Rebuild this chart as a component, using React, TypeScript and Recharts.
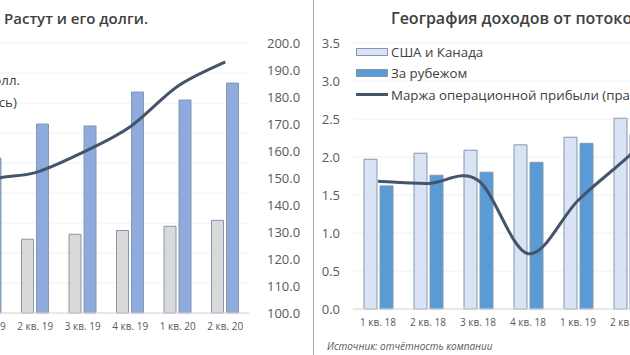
import { ComposedChart, Bar, Line, XAxis, YAxis, CartesianGrid, Legend } from 'recharts';

// ---- left panel: Netflix revenue, debt, subscribers ----
const quarters = ['1 кв. 18', '2 кв. 18', '3 кв. 18', '4 кв. 18', '1 кв. 19', '2 кв. 19', '3 кв. 19', '4 кв. 19', '1 кв. 20', '2 кв. 20'];
const revenue = [3.7, 3.91, 4.0, 4.19, 4.52, 4.92, 5.25, 5.5, 5.78, 6.18];
const debt = [6.5, 8.3, 8.3, 10.4, 10.33, 12.6, 12.47, 14.73, 14.2, 15.33];
const subscribers = [125, 130, 137, 139, 149, 152, 159.5, 169, 184, 193];
const leftTicks = [0, 2, 4, 6, 8, 10, 12, 14, 16, 18];
const rightTicks = [100, 110, 120, 130, 140, 150, 160, 170, 180, 190, 200];

// ---- right panel: revenue by region and operating margin ----
const regionQuarters = ['1 кв. 18', '2 кв. 18', '3 кв. 18', '4 кв. 18', '1 кв. 19', '2 кв. 19', '3 кв. 19', '4 кв. 19', '1 кв. 20', '2 кв. 20'];
const usCanada = [1.97, 2.05, 2.09, 2.16, 2.26, 2.51, 2.62, 2.67, 2.7, 2.84];
const abroad = [1.62, 1.76, 1.8, 1.93, 2.18, 2.3, 2.4, 2.5, 2.8, 3.1];
const opMargin = [12.0, 11.8, 12.1, 5.2, 10.2, 14.3, 18.7, 8.4, 16.6, 22.1];
const regionTicks = [0, 0.5, 1, 1.5, 2, 2.5, 3, 3.5];

const leftNames = ['Выручка, млрд долл.', 'Долгосрочный долг, млрд долл.', 'Подписчиков, млн (правая ось)'];
const rightNames = ['США и Канада', 'За рубежом', 'Маржа операционной прибыли (правая ось)'];

const leftData = quarters.map((q, i) => ({ q, revenue: revenue[i], debt: debt[i], subs: subscribers[i] }));
const rightData = regionQuarters.map((q, i) => ({ q, us: usCanada[i], abroad: abroad[i], margin: opMargin[i] }));

const FONT = '"Open Sans", sans-serif';
const LINE = '#44546a';
const EDGE = '#8497b0';

// excel-like smoothed line (catmull-rom as bezier)
function excelSmooth(context: any) {
  let pts: number[][] = [];
  return {
    areaStart() {},
    areaEnd() {},
    lineStart() { pts = []; },
    point(x: number, y: number) { pts.push([+x, +y]); },
    lineEnd() {
      const n = pts.length;
      if (!n) return;
      context.moveTo(pts[0][0], pts[0][1]);
      for (let i = 0; i < n - 1; i++) {
        const p0 = pts[Math.max(i - 1, 0)];
        const p1 = pts[i];
        const p2 = pts[i + 1];
        const p3 = pts[Math.min(i + 2, n - 1)];
        context.bezierCurveTo(
          p1[0] + (p2[0] - p0[0]) / 6, p1[1] + (p2[1] - p0[1]) / 6,
          p2[0] - (p3[0] - p1[0]) / 6, p2[1] - (p3[1] - p1[1]) / 6,
          p2[0], p2[1]
        );
      }
    },
  };
}

type Item = { name: string; fill?: string; line?: boolean };

function LegendBox({ items, rowH }: { items: Item[]; rowH: number }) {
  return (
    <div style={{ fontFamily: FONT, fontSize: 13.3, color: '#404040' }}>
      {items.map(it => (
        <div key={it.name} style={{ display: 'flex', alignItems: 'center', height: rowH, whiteSpace: 'nowrap' }}>
          {it.line ? (
            <span style={{ width: 32, height: 3, background: LINE, marginRight: 3 }} />
          ) : (
            <span style={{ width: 30, height: 6, background: it.fill, border: `1px solid ${EDGE}`, marginRight: 3 }} />
          )}
          {it.name}
        </div>
      ))}
    </div>
  );
}

const fmt = (v: number) => v.toFixed(1);

export default function App() {
  const leftItems: Item[] = [
    { name: leftNames[0], fill: '#d9d9d9' },
    { name: leftNames[1], fill: '#8faadc' },
    { name: leftNames[2], line: true },
  ];
  const rightItems: Item[] = [
    { name: rightNames[0], fill: '#dae3f3' },
    { name: rightNames[1], fill: '#5b9bd5' },
    { name: rightNames[2], line: true },
  ];
  const title = { position: 'absolute' as const, top: 8, fontFamily: FONT, fontSize: 15, fontWeight: 600, color: '#404040', whiteSpace: 'nowrap' as const };

  return (
    <div style={{ position: 'absolute', left: 0, top: 0, width: 630, height: 355, overflow: 'hidden', background: '#fff' }}>
      <div style={{ ...title, right: 482 }}>Число подписчиков Netflix растёт. Растут и его долги.</div>
      <div style={{ ...title, left: 391, top: 7, fontSize: 16 }}>География доходов от потокового сервиса, млрд долл.</div>

      <div style={{ position: 'absolute', left: -276, top: 0 }}>
        <ComposedChart width={585} height={355} data={leftData} margin={{ top: 43, right: 0, bottom: 12, left: 5 }} barSize={12} barGap={3}>
          <CartesianGrid yAxisId="left" vertical={false} stroke="#f0f0f0" />
          <XAxis dataKey="q" interval={0} height={30} tickLine={false} tickSize={0} tickMargin={10} axisLine={{ stroke: '#d9d9d9' }} tick={{ fontSize: 10, fill: '#595959', fontFamily: FONT }} />
          <YAxis yAxisId="left" width={45} domain={[0, 18]} ticks={leftTicks} tickFormatter={fmt} axisLine={false} tickLine={false} tick={{ fontSize: 13, fill: '#595959', fontFamily: FONT }} />
          <YAxis yAxisId="right" orientation="right" width={60} domain={[100, 200]} ticks={rightTicks} tickFormatter={fmt} axisLine={false} tickLine={false} tickSize={0} tickMargin={18} tick={{ fontSize: 13, fill: '#595959', fontFamily: FONT, textAnchor: 'start' }} />
          <Legend layout="vertical" align="center" verticalAlign="middle" wrapperStyle={{ left: 'auto', right: 289, top: 47, width: 'auto' }} content={() => <LegendBox items={leftItems} rowH={22} />} />
          <Bar yAxisId="left" dataKey="revenue" name={leftNames[0]} fill="#d9d9d9" stroke={EDGE} isAnimationActive={false} />
          <Bar yAxisId="left" dataKey="debt" name={leftNames[1]} fill="#8faadc" stroke={EDGE} isAnimationActive={false} />
          <Line yAxisId="right" dataKey="subs" name={leftNames[2]} type={excelSmooth as any} stroke={LINE} strokeWidth={3} dot={false} activeDot={false} isAnimationActive={false} />
        </ComposedChart>
      </div>

      <div style={{ position: 'absolute', left: 313, top: 0, width: 1, height: 355, background: '#a6a6a6' }} />

      <div style={{ position: 'absolute', left: 314, top: 0 }}>
        <ComposedChart width={589} height={355} data={rightData} margin={{ top: 43, right: 50, bottom: 16, left: 1 }} barSize={13} barGap={3}>
          <CartesianGrid yAxisId="left" vertical={false} stroke="#f0f0f0" />
          <XAxis dataKey="q" interval={0} height={30} tickLine={false} tickSize={0} tickMargin={10} axisLine={{ stroke: '#d9d9d9' }} tick={{ fontSize: 10, fill: '#595959', fontFamily: FONT }} />
          <YAxis yAxisId="left" width={38} domain={[0, 3.5]} ticks={regionTicks} tickFormatter={fmt} axisLine={false} tickLine={false} tickSize={0} tickMargin={13} tick={{ fontSize: 13, fill: '#595959', fontFamily: FONT }} />
          <YAxis yAxisId="right" orientation="right" hide domain={[0, 25]} />
          <Legend layout="vertical" align="center" verticalAlign="middle" wrapperStyle={{ left: 42, top: 41, width: 'auto' }} content={() => <LegendBox items={rightItems} rowH={21.5} />} />
          <Bar yAxisId="left" dataKey="us" name={rightNames[0]} fill="#dae3f3" stroke={EDGE} isAnimationActive={false} />
          <Bar yAxisId="left" dataKey="abroad" name={rightNames[1]} fill="#5b9bd5" stroke={EDGE} isAnimationActive={false} />
          <Line yAxisId="right" dataKey="margin" name={rightNames[2]} type={excelSmooth as any} stroke={LINE} strokeWidth={3} dot={false} activeDot={false} isAnimationActive={false} />
        </ComposedChart>
      </div>

      <div style={{ position: 'absolute', left: 327, top: 339, fontFamily: FONT, fontSize: 10, fontStyle: 'italic', color: '#595959', whiteSpace: 'nowrap' }}>
        Источник: отчётность компании
      </div>
    </div>
  );
}
